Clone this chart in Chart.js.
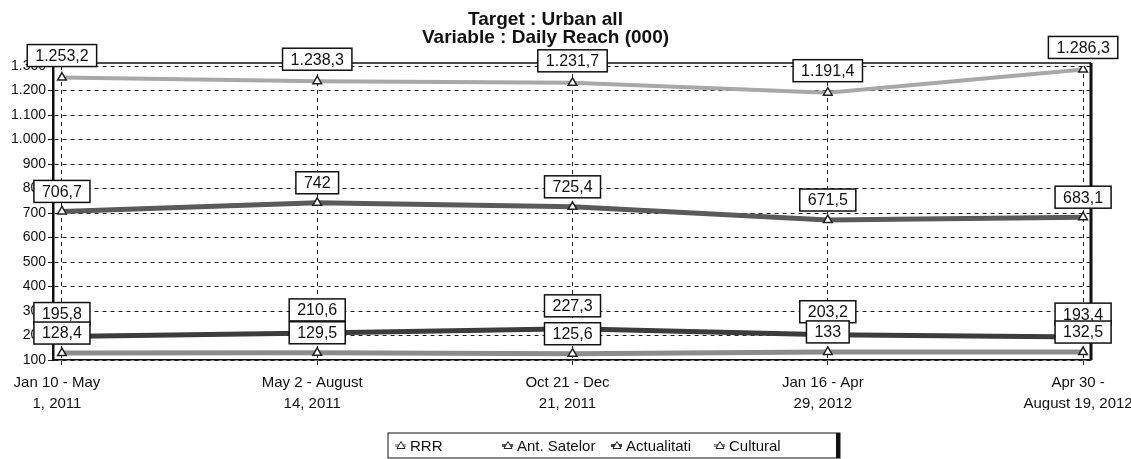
<!DOCTYPE html>
<html>
<head>
<meta charset="utf-8">
<script src="https://cdn.jsdelivr.net/npm/chart.js@4.4.1/dist/chart.umd.min.js"></script>
<style>
  html, body { margin: 0; padding: 0; background: #fff; }
  #wrap { width: 1131px; height: 459px; }
</style>
</head>
<body>
<div id="wrap"><canvas id="reachChart"></canvas></div>
<script>
const categories = [
  ["Jan 10 - May", "1, 2011"],
  ["May 2 - August", "14, 2011"],
  ["Oct 21 - Dec", "21, 2011"],
  ["Jan 16 - Apr", "29, 2012"],
  ["Apr 30 -", "August 19, 2012"]
];
const seriesNames = ["RRR", "Ant. Satelor", "Actualitati", "Cultural"];
const rrr = [1253.2, 1238.3, 1231.7, 1191.4, 1286.3];
const antSatelor = [706.7, 742, 725.4, 671.5, 683.1];
const actualitati = [195.8, 210.6, 227.3, 203.2, 193.4];
const cultural = [128.4, 129.5, 125.6, 133, 132.5];
const yMin = 100, yMax = 1300, yStep = 100;

const lineColors = ["#a8a8a8", "#5a5a5a", "#3c3c3c", "#8c8c8c"];
const labelOffsets = [-22, -20, -23, -20];

// 1.253,2 style numbers
function fmt(v) {
  const parts = String(v).split(".");
  const intPart = parts[0].replace(/\B(?=(\d{3})+(?!\d))/g, ".");
  return parts[1] ? intPart + "," + parts[1] : intPart;
}

function toPoints(arr) {
  return arr.map((v, i) => ({ x: i, y: v }));
}

const frameAndLabels = {
  id: "frameAndLabels",
  beforeDatasetsDraw(chart) {
    const { ctx, chartArea: a } = chart;
    ctx.save();
    ctx.strokeStyle = "#111";
    ctx.lineWidth = 1.5;
    ctx.beginPath();
    ctx.moveTo(a.left, a.top - 3);
    ctx.lineTo(a.right, a.top - 3);
    ctx.stroke();
    ctx.lineWidth = 3;
    ctx.beginPath();
    ctx.moveTo(a.right, a.top - 3);
    ctx.lineTo(a.right, a.bottom);
    ctx.stroke();
    ctx.restore();
  },
  afterDatasetsDraw(chart) {
    const { ctx } = chart;
    ctx.save();
    ctx.font = "16px 'Liberation Sans', Arial, sans-serif";
    ctx.textAlign = "center";
    ctx.textBaseline = "middle";
    chart.data.datasets.forEach((ds, di) => {
      const meta = chart.getDatasetMeta(di);
      meta.data.forEach((pt, i) => {
        const txt = fmt(ds.data[i].y);
        const w = ctx.measureText(txt).width + 16;
        const h = 22;
        const cx = pt.x;
        const cy = pt.y + labelOffsets[di];
        ctx.fillStyle = "#fff";
        ctx.fillRect(cx - w / 2, cy - h / 2, w, h);
        ctx.strokeStyle = "#111";
        ctx.lineWidth = 1.5;
        ctx.strokeRect(cx - w / 2, cy - h / 2, w, h);
        ctx.fillStyle = "#111";
        ctx.fillText(txt, cx, cy + 1);
      });
    });
    ctx.restore();
  },
  afterDraw(chart) {
    // legend box
    const { ctx } = chart;
    const boxX = 388, boxY = 433, boxW = 452, boxH = 25;
    const itemX = [400, 507, 616, 719];
    ctx.save();
    ctx.strokeStyle = "#111";
    ctx.lineWidth = 1;
    ctx.strokeRect(boxX, boxY, boxW, boxH);
    ctx.fillStyle = "#111";
    ctx.fillRect(boxX + boxW - 4, boxY, 4, boxH);
    ctx.font = "15px 'Liberation Sans', Arial, sans-serif";
    ctx.textBaseline = "middle";
    const cy = boxY + boxH / 2;
    seriesNames.forEach((name, i) => {
      const x = itemX[i];
      ctx.strokeStyle = lineColors[i];
      ctx.lineWidth = 3;
      ctx.beginPath();
      ctx.moveTo(x - 5, cy);
      ctx.lineTo(x + 6, cy);
      ctx.stroke();
      ctx.fillStyle = "#fff";
      ctx.strokeStyle = "#222";
      ctx.lineWidth = 1;
      ctx.beginPath();
      ctx.moveTo(x + 1, cy - 4);
      ctx.lineTo(x + 5, cy + 3);
      ctx.lineTo(x - 3, cy + 3);
      ctx.closePath();
      ctx.fill();
      ctx.stroke();
      ctx.fillStyle = "#111";
      ctx.fillText(name, x + 10, cy + 1);
    });
    ctx.restore();
  }
};

const allSeries = [rrr, antSatelor, actualitati, cultural];

new Chart(document.getElementById("reachChart"), {
  type: "line",
  data: {
    datasets: allSeries.map((arr, i) => ({
      label: seriesNames[i],
      data: toPoints(arr),
      borderColor: lineColors[i],
      borderWidth: i === 0 ? 4 : 5,
      pointStyle: "triangle",
      pointRadius: 5,
      pointBackgroundColor: "#fff",
      pointBorderColor: "#222",
      pointBorderWidth: 1.5,
      tension: 0
    }))
  },
  options: {
    responsive: true,
    maintainAspectRatio: false,
    animation: false,
    layout: { padding: { left: 0, right: 40, top: 0, bottom: 49 } },
    plugins: {
      legend: { display: false },
      tooltip: { enabled: false },
      title: {
        display: true,
        text: ["Target : Urban all", "Variable : Daily Reach (000)"],
        color: "#111",
        font: { family: "'Liberation Sans Narrow', 'Liberation Sans', Arial, sans-serif", size: 19, weight: "bold", lineHeight: 0.95 },
        padding: { top: 11, bottom: 19 }
      }
    },
    scales: {
      x: {
        type: "linear",
        min: -0.035,
        max: 4.031,
        afterBuildTicks: (s) => { s.ticks = categories.map((c, i) => ({ value: i })); },
        afterFit: (s) => { s.paddingLeft = 0; s.paddingRight = 0; s.height = 50; },
        ticks: {
          callback: (v) => categories[v],
          color: "#111",
          font: { family: "'Liberation Sans', Arial, sans-serif", size: 15, lineHeight: 1.35 },
          maxRotation: 0,
          autoSkip: false,
          padding: 8,
          labelOffset: -5
        },
        grid: { color: "#222", lineWidth: 1, tickLength: 5 },
        border: { display: true, color: "#111", width: 1.5, dash: [4, 4] }
      },
      y: {
        min: yMin,
        max: yMax,
        afterFit: (s) => { s.width = 53; },
        ticks: {
          stepSize: yStep,
          callback: (v) => fmt(v),
          color: "#111",
          font: { family: "'Liberation Sans', Arial, sans-serif", size: 14 },
          padding: 2
        },
        grid: { color: "#222", lineWidth: 1, tickLength: 5 },
        border: { display: true, color: "#111", width: 2.5, dash: [4, 4] }
      }
    }
  },
  plugins: [frameAndLabels]
});
</script>
</body>
</html>
